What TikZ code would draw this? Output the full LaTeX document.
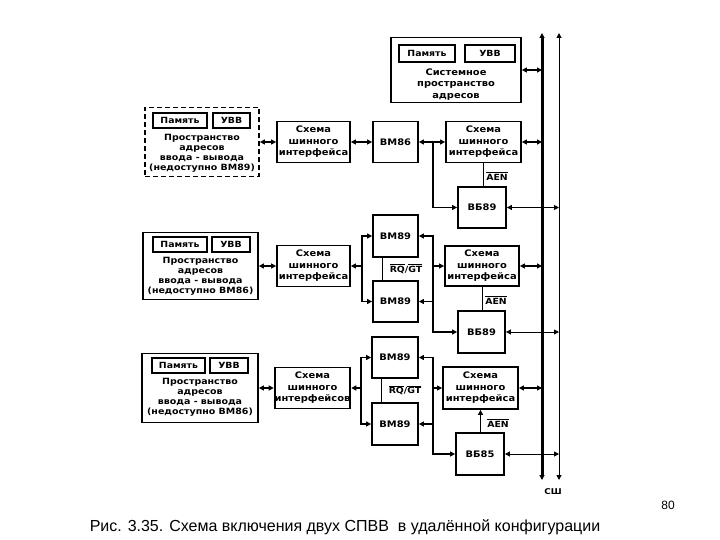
\documentclass[tikz,border=0pt]{standalone}
\usepackage{fontspec}
\setmainfont{Liberation Sans}
\newfontfamily\dfont[FakeStretch=1.1]{DejaVu Sans}
\usetikzlibrary{arrows.meta,calc}
\begin{document}
\begin{tikzpicture}[x=1pt,y=-1pt,
  >={Triangle[length=5pt,width=5pt]},
  box/.style={draw, line width=1.8pt, inner sep=0pt, align=center, font=\dfont\bfseries\fontsize{9}{11.5}\selectfont},
  ibox/.style={draw, line width=1.6pt, inner sep=0pt, font=\dfont\bfseries\fontsize{8.5}{10}\selectfont},
  txt/.style={inner sep=0pt, align=center, font=\dfont\bfseries\fontsize{8.6}{10}\selectfont},
  lab/.style={inner sep=0pt, font=\dfont\bfseries\fontsize{8.5}{10}\selectfont},
  conn/.style={line width=1.8pt},
  sig/.style={line width=0.9pt},
  bus/.style={line width=3pt},
  tbus/.style={line width=1pt}]
\fill[white] (0,0) rectangle (720,540);
\useasboundingbox (0,0) rectangle (720,540);

% ---------- system bus ----------
\coordinate (BT) at (542,33);
\coordinate (BB) at (542,480);
\coordinate (CT) at (559,33);
\coordinate (CB) at (559,480);
\draw[bus,<->] (BB) -- (BT);
\draw[tbus,<->] (CB) -- (CT);
\node[inner sep=0pt, font=\dfont\bfseries\fontsize{8}{9}\selectfont] (csh) at (553,492) {СШ};

% ---------- top: system address space ----------
\node[box, minimum width=130pt, minimum height=65pt] (sys) at (456,70) {};
\node[ibox, minimum width=56pt, minimum height=17pt] (sysP) at (427,53.5) {Память};
\node[ibox, minimum width=50pt, minimum height=17pt] (sysU) at (490,53.5) {УВВ};
\node[txt, font=\dfont\bfseries\fontsize{9}{11.5}\selectfont] (sysT) at (456,84.5) {Системное\\пространство\\адресов};
\draw[conn,<->] (sys.east) -- (sys.east -| BT);

% ---------- row 1 ----------
\node[box, dashed, dash pattern=on 5pt off 3pt, minimum width=114pt, minimum height=69pt] (d1) at (202,142) {};
\node[ibox, minimum width=54pt, minimum height=15pt] (d1P) at (180,120.5) {Память};
\node[ibox, minimum width=37pt, minimum height=15pt] (d1U) at (231.5,120.5) {УВВ};
\node[txt] (d1T) at (202,153) {Пространство\\адресов\\ввода - вывода\\(недоступно ВМ89)};
\node[box, minimum width=73pt, minimum height=41pt] (s1L) at (313.5,142) {Схема\\шинного\\интерфейса};
\node[box, minimum width=45pt, minimum height=41pt] (m1) at (395.5,142) {ВМ86};
\node[box, minimum width=75pt, minimum height=41pt] (s1R) at (483.5,142) {Схема\\шинного\\интерфейса};
\node[box, minimum width=48pt, minimum height=41pt] (v1) at (482,207.5) {ВБ89};
\draw[conn,<->] (d1) -- (s1L);
\draw[conn,<->] (s1L) -- (m1);
\draw[conn,<->] (m1) -- (s1R);
\coordinate (j1) at (433,142);
\draw[conn,->] (j1) |- (v1.west);
\draw[sig] (s1R.south) -- (s1R.south |- v1.north);
\node[lab] (aen1) at (497,176) {$\overline{\mbox{AEN}}$};
\draw[conn,<->] (s1R.east) -- (s1R.east -| BT);
\draw[sig,<->] (v1.east) -- (v1.east -| CT);

% ---------- row 2 ----------
\node[box, minimum width=115pt, minimum height=67pt] (b2) at (200.5,266) {};
\node[ibox, minimum width=54pt, minimum height=15pt] (b2P) at (180,244.5) {Память};
\node[ibox, minimum width=38pt, minimum height=15pt] (b2U) at (231,244.5) {УВВ};
\node[txt] (b2T) at (200.5,276.5) {Пространство\\адресов\\ввода - вывода\\(недоступно ВМ86)};
\node[box, minimum width=73pt, minimum height=41pt] (s2L) at (313.5,266) {Схема\\шинного\\интерфейса};
\node[box, minimum width=45pt, minimum height=42pt] (a2) at (395.5,236) {ВМ89};
\node[box, minimum width=45pt, minimum height=41pt] (c2) at (395.5,301.5) {ВМ89};
\node[box, minimum width=74pt, minimum height=40pt] (s2R) at (482,266) {Схема\\шинного\\интерфейса};
\node[box, minimum width=47pt, minimum height=42pt] (v2) at (481.5,332) {ВБ89};
\draw[conn,<->] (b2) -- (s2L);
\coordinate (jL2) at (362,266);
\coordinate (jR2) at (433,266);
\draw[conn,<-] (s2L.east) -- (jL2);
\draw[conn,->] (jL2) |- (a2.west);
\draw[conn,->] (jL2) |- (c2.west);
\draw[conn,->] (jR2) |- (a2.east);
\draw[conn,->] (jR2) |- (c2.east);
\draw[conn,->] (jR2) -- (s2R.west);
\draw[conn,->] (jR2) |- (v2.west);
\draw[sig] ([xshift=10pt]a2.south west) -- ([xshift=10pt]c2.north west);
\node[lab] (rq2) at (406,268.5) {$\overline{\mbox{RQ}}$/$\overline{\mbox{GT}}$};
\draw[sig] (s2R.south) -- (s2R.south |- v2.north);
\node[lab] (aen2) at (496,300) {$\overline{\mbox{AEN}}$};
\draw[conn,<->] (s2R.east) -- (s2R.east -| BT);
\draw[sig,<->] (v2.east) -- (v2.east -| CT);

% ---------- row 3 ----------
\node[box, minimum width=116pt, minimum height=69pt] (b3) at (200,388) {};
\node[ibox, minimum width=53pt, minimum height=15pt] (b3P) at (178.5,365.5) {Память};
\node[ibox, minimum width=38pt, minimum height=15pt] (b3U) at (229,365.5) {УВВ};
\node[txt] (b3T) at (200,397.5) {Пространство\\адресов\\ввода - вывода\\(недоступно ВМ86)};
\node[box, minimum width=73pt, minimum height=41pt] (s3L) at (312.5,388) {Схема\\шинного\\интерфейсов};
\node[box, minimum width=46pt, minimum height=41pt] (a3) at (395,357.5) {ВМ89};
\node[box, minimum width=46pt, minimum height=42pt] (c3) at (395,424) {ВМ89};
\node[box, minimum width=75pt, minimum height=42pt] (s3R) at (480.5,388) {Схема\\шинного\\интерфейса};
\node[box, minimum width=48pt, minimum height=42pt] (v3) at (480,454) {ВБ85};
\draw[conn,<->] (b3) -- (s3L);
\coordinate (jL3) at (361,388);
\coordinate (jR3) at (433,388);
\draw[conn,<-] (s3L.east) -- (jL3);
\draw[conn,->] (jL3) |- (a3.west);
\draw[conn,->] (jL3) |- (c3.west);
\draw[conn,->] (jR3) |- (a3.east);
\draw[conn,->] (jR3) |- (c3.east);
\draw[conn,->] (jR3) -- (s3R.west);
\draw[conn,->] (jR3) |- (v3.west);
\draw[sig] ([xshift=10pt]a3.south west) -- ([xshift=10pt]c3.north west);
\node[lab] (rq3) at (405,390) {$\overline{\mbox{RQ}}$/$\overline{\mbox{GT}}$};
\draw[sig,->] (s3R.south |- v3.north) -- (s3R.south);
\node[lab] (aen3) at (498,423) {$\overline{\mbox{AEN}}$};
\draw[conn,<->] (s3R.east) -- (s3R.east -| BT);
\draw[sig,<->] (v3.east) -- (v3.east -| CT);

% ---------- caption ----------
\node[inner sep=0pt, font=\fontsize{12}{14}\selectfont] (pg) at (668,505) {80};
\node[inner sep=0pt, font=\fontsize{16}{19}\selectfont] (cap) at (345,527) {Рис. 3.35. Схема включения двух СПВВ\ \ в удалённой конфигурации};
\end{tikzpicture}
\end{document}
